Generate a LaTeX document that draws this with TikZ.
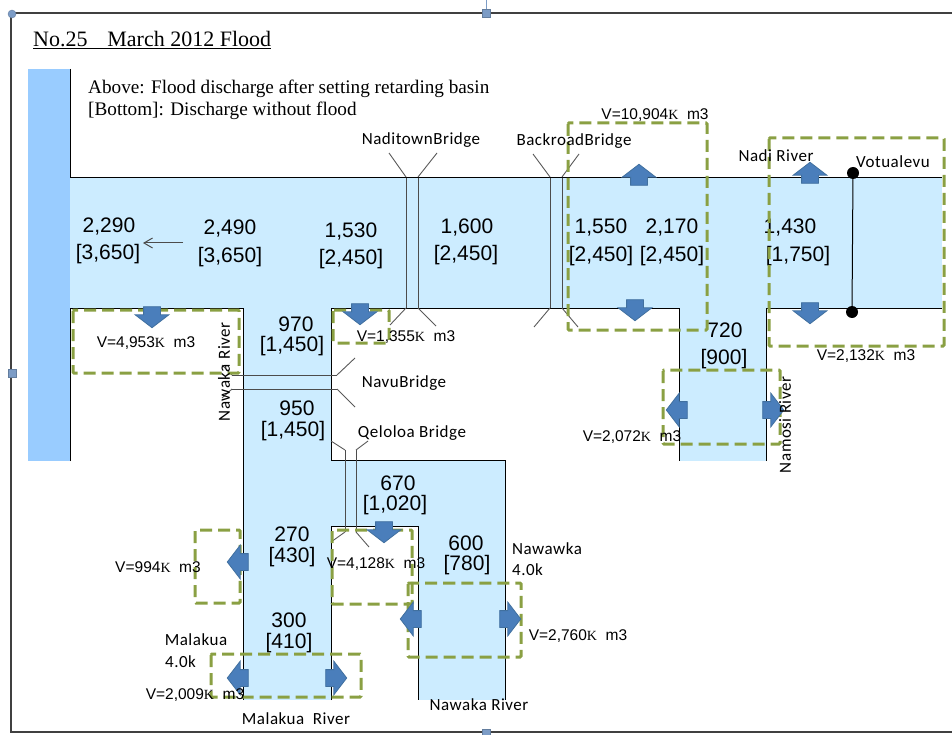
\documentclass[tikz,border=0pt]{standalone}
\usepackage{fontspec}
\setmainfont{Liberation Serif}
\newfontfamily\flowfont{Liberation Sans}
\newfontfamily\tagfont[LetterSpace=3]{Carlito}
\usetikzlibrary{arrows.meta,shapes.arrows}
\definecolor{basinblue}{HTML}{99CCFF}
\definecolor{riverblue}{HTML}{CCECFF}
\definecolor{arrowblue}{HTML}{4A7EBB}
\definecolor{arrowline}{HTML}{41709F}
\definecolor{zoneolive}{HTML}{8AA043}
\definecolor{handleblue}{HTML}{7C9CC6}
\newcommand{\kunit}{{\rmfamily\fontsize{14}{14}\selectfont K}}

\begin{document}
\begin{tikzpicture}[
  x=1pt, y=-1pt,
  river/.style={fill=riverblue, draw=none},
  bank/.style={draw=black, line width=1pt},
  bridge/.style={draw=black!70, line width=1pt},
  wing/.style={draw=black!65, line width=0.9pt},
  zone/.style={draw=zoneolive, line width=3pt, dash pattern=on 12pt off 6pt, rounded corners=1pt},
  flow/.style={font=\flowfont\fontsize{21}{21}\selectfont, inner sep=0pt, yshift=-1.5pt},
  tag/.style={font=\tagfont\fontsize{17}{17}\selectfont, inner sep=0pt, yshift=-1pt},
  vol/.style={font=\flowfont\fontsize{15.5}{15.5}\selectfont, inner sep=0pt, yshift=-1pt},
  legend/.style={anchor=west, inner sep=0pt, font=\fontsize{19.2}{19.2}\selectfont, yshift=-1.5pt},
  blockarrow/.style={single arrow, draw=arrowline, fill=arrowblue, line width=0.8pt, minimum width=33pt, minimum height=21pt, single arrow head extend=8.5pt, single arrow tip angle=105, inner xsep=0pt, inner ysep=8pt},
  gauge/.style={circle, fill=black, minimum size=12pt, inner sep=0pt},
  handle/.style={draw=handleblue!80!black, fill=handleblue, minimum size=8pt, inner sep=0pt}
]
\useasboundingbox (0,0) rectangle (952,735);
% frame
\draw[draw=black!75, line width=1.5pt] (952,13) -- (11,13) -- (11,732) -- (952,732);
\draw[draw=handleblue, line width=0.8pt] (486,0) -- (486,13);
\node[handle, circle] (hcorner) at (12,14) {};
\node[handle] (htop) at (486,13) {};
\node[handle] (hleft) at (12,373) {};
\node[handle] (hbottom) at (486,733) {};
% water
\fill[basinblue] (28,69) rectangle (70,461);
\fill[river] (70,178) rectangle (942,308);
\fill[river] (243,308) rectangle (331,700);
\fill[river] (331,460) rectangle (505,526);
\fill[river] (418,526) rectangle (505,700);
\fill[river] (679,308) rectangle (766,461);
% banks
\draw[bank] (70,69) -- (70,178) -- (942,178);
\draw[bank] (70,461) -- (70,308) -- (243,308) -- (243,700);
\draw[bank] (331,700) -- (331,526) -- (418,526) -- (418,700);
\draw[bank] (505,700) -- (505,460) -- (331,460) -- (331,308) -- (679,308) -- (679,461);
\draw[bank] (766,461) -- (766,308) -- (942,308);
% bridges
\draw[bridge] (406,178) -- (406,308);
\draw[bridge] (418,178) -- (418,308);
\draw[wing] (389,153) -- (406,177) (437,153) -- (418,177) (390,325) -- (406,308) (436,326) -- (418,308);
\draw[bridge] (550,178) -- (550,308);
\draw[bridge] (562,178) -- (562,308);
\draw[wing] (533,154) -- (550,177) (579,154) -- (562,177) (534,327) -- (550,308) (578,327) -- (562,308);
\draw[bridge] (232,375) -- (337,375);
\draw[bridge] (232,389) -- (337,389);
\draw[wing] (222,365) -- (232,375) (222,398) -- (232,389) (355,358) -- (337,375) (355,407) -- (337,389);
\draw[bridge] (345,450) -- (345,532);
\draw[bridge] (356,450) -- (356,532);
\draw[wing] (331,441) -- (345,450) (368,441) -- (356,450) (331,542) -- (345,532) (369,547) -- (356,532);
% flows
\node[flow] (f2290) at (109,225) {2,290};
\node[flow] (g3650) at (108,253) {[3,650]};
\node[flow] (f2490) at (230,227) {2,490};
\node[flow] (h3650) at (230,256) {[3,650]};
\node[flow] (f1530) at (351,230) {1,530};
\node[flow] (g2450) at (351,258) {[2,450]};
\node[flow] (f1600) at (467,226) {1,600};
\node[flow] (h2450) at (466,254) {[2,450]};
\node[flow] (f1550) at (601,226) {1,550};
\node[flow] (i2450) at (601,255) {[2,450]};
\node[flow] (f2170) at (672,226) {2,170};
\node[flow] (j2450) at (672,255) {[2,450]};
\node[flow] (f1430) at (790,226) {1,430};
\node[flow] (g1750) at (798,255) {[1,750]};
\node[flow] (f720) at (725,329) {720};
\node[flow] (g900) at (724,358) {[900]};
\node[flow] (f970) at (296,323) {970};
\node[flow] (g1450) at (292,345) {[1,450]};
\node[flow] (f950) at (297,407) {950};
\node[flow] (h1450) at (293,430) {[1,450]};
\node[flow] (f670) at (398,482) {670};
\node[flow] (g1020) at (395,504) {[1,020]};
\node[flow] (f270) at (292,533) {270};
\node[flow] (g430) at (292,556) {[430]};
\node[flow] (f600) at (466,542) {600};
\node[flow] (g780) at (467,564) {[780]};
\node[flow] (f300) at (289,619) {300};
\node[flow] (g410) at (289,642) {[410]};
\coordinate (flowtail) at (183,243);
\coordinate (flowtip) at (143,243);
\draw[-{Straight Barb[length=3mm,width=3.5mm]}, draw=black!70, line width=1pt] (flowtail) -- (flowtip);
% retarding zones
\draw[zone] (73,310) rectangle (239,373);
\draw[zone] (333,310) rectangle (389,343);
\draw[zone] (568,123) rectangle (707,330);
\draw[zone] (769,138) rectangle (944,346);
\draw[zone] (663,370) rectangle (780,444);
\draw[zone] (195,530) rectangle (240,603);
\draw[zone] (332,530) rectangle (412,604);
\draw[zone] (408,583) rectangle (521,657);
\draw[zone] (211,654) rectangle (361,697);
% overflow arrows
\node[blockarrow, rotate=-90] (dnbasin) at (152,314) {};
\node[blockarrow, rotate=-90] (dntown) at (360,311) {};
\node[blockarrow, rotate=90] (upmid) at (639,178) {};
\node[blockarrow, rotate=-90] (dnmid) at (635,307) {};
\node[blockarrow, rotate=90] (upnadi) at (810,176) {};
\node[blockarrow, rotate=-90] (dnnadi) at (810,310) {};
\node[blockarrow, rotate=180] (ltnamosi) at (680,410) {};
\node[blockarrow] (rtnamosi) at (770,410) {};
\node[blockarrow, rotate=180] (ltupper) at (241,562) {};
\node[blockarrow, rotate=-90] (dnqeloloa) at (384,529) {};
\node[blockarrow, rotate=180] (ltnawa) at (414,619) {};
\node[blockarrow] (rtnawa) at (507,619) {};
\node[blockarrow, rotate=180] (ltmalakua) at (241,678) {};
\node[blockarrow] (rtmalakua) at (333,678) {};
% gauge
\node[gauge] (gaugeup) at (853,173) {};
\node[gauge] (gaugedn) at (852,312) {};
\draw[draw=black, line width=1pt] (gaugeup) -- (gaugedn);
% titles
\node[legend, font=\fontsize{22}{22}\selectfont, yshift=0.5pt] (title) at (33,39) {\underline{No.25\hspace{0.9em}March 2012 Flood}};
\node[legend] (legendup) at (88,87) {Above: Flood discharge after setting retarding basin};
\node[legend] (legenddn) at (88,109) {[Bottom]: Discharge without flood};
% names
\node[tag] (naditown) at (421,139) {NaditownBridge};
\node[tag] (backroad) at (574,140) {BackroadBridge};
\node[tag] (nadi) at (776,155) {Nadi River};
\node[tag] (votualevu) at (893,161) {Votualevu};
\node[tag] (navu) at (404,382) {NavuBridge};
\node[tag] (qeloloa) at (412,432) {Qeloloa Bridge};
\node[tag] (nawawka) at (547,548) {Nawawka};
\node[tag, anchor=west] (nawawkad) at (512,569) {4.0k};
\node[tag] (malakua) at (196,639) {Malakua};
\node[tag, anchor=west] (malakuad) at (165,661) {4.0k};
\node[tag] (malakuar) at (296,718) {Malakua\ \ River};
\node[tag] (nawakar) at (479,704) {Nawaka River};
\node[tag, rotate=90] (nawakav) at (224,371) {Nawaka River};
\node[tag, rotate=90] (namosi) at (785,424) {Namosi River};
% volumes
\node[vol] (v10904) at (655,114) {V=10,904\kunit\ \ m3};
\node[vol] (v2132) at (866,355) {V=2,132\kunit\ \ m3};
\node[vol] (v4953) at (146,342) {V=4,953\kunit\ \ m3};
\node[vol] (v1355) at (406,336) {V=1,355\kunit\ \ m3};
\node[vol] (v2072) at (632,436) {V=2,072\kunit\ \ m3};
\node[vol] (v994) at (158,566) {V=994\kunit\ \ m3};
\node[vol] (v4128) at (376,563) {V=4,128\kunit\ \ m3};
\node[vol] (v2760) at (578,635) {V=2,760\kunit\ \ m3};
\node[vol] (v2009) at (195,694) {V=2,009\kunit\ \ m3};
\end{tikzpicture}
\end{document}
